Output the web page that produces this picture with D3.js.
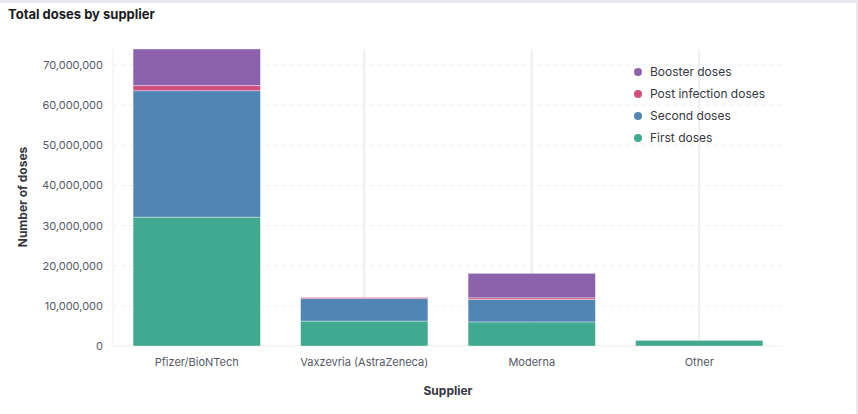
<!DOCTYPE html>
<html><head><meta charset="utf-8">
<script src="https://cdn.jsdelivr.net/npm/d3@7"></script>
<style>body{margin:0;background:#fff;font-family:Inter,"Open Sans",sans-serif;}</style>
</head><body><svg id="c" width="858" height="414"></svg>
<script>
const suppliers = ["Pfizer/BioNTech","Vaxzevria (AstraZeneca)","Moderna","Other"];
const seriesNames = ["First doses","Second doses","Post infection doses","Booster doses"];
const firstDoses = [32100000, 6200000, 6000000, 1400000];
const secondDoses = [31500000, 5600000, 5600000, 0];
const postInfection = [1300000, 300000, 400000, 0];
const boosterDoses = [9100000, 0, 6100000, 0];
const colors = ["#41a98f","#5186b4","#d04f7c","#8c62ad"];
const yTicks = [0,10000000,20000000,30000000,40000000,50000000,60000000,70000000];

const rows = suppliers.map((s,i)=>({supplier:s,"First doses":firstDoses[i],"Second doses":secondDoses[i],"Post infection doses":postInfection[i],"Booster doses":boosterDoses[i]}));
const stacked = d3.stack().keys(seriesNames)(rows);
const svg = d3.select("#c");
svg.append("rect").attr("width",858).attr("height",414).attr("fill","#fff");
svg.append("rect").attr("width",858).attr("height",3).attr("fill","#e6e8ee");
svg.append("rect").attr("x",856).attr("width",2).attr("height",414).attr("fill","#e6e8ee");
svg.append("text").attr("x",8).attr("y",19).attr("font-size",13).attr("font-weight",700).attr("fill","#1a1c21").text("Total doses by supplier");

const m={l:113,r:783,t:49,b:346};
const x=d3.scaleBand().domain(suppliers).range([m.l,m.r]).paddingInner(0.24).paddingOuter(0.12);
const y=d3.scaleLinear().domain([0,74000000]).range([m.b,m.t]);
const g=svg.append("g");
yTicks.forEach(t=>{
  g.append("line").attr("x1",m.l).attr("x2",m.r).attr("y1",y(t)).attr("y2",y(t)).attr("stroke","#eceef2").attr("stroke-dasharray",t===0?null:"4,4");
  g.append("text").attr("x",103).attr("y",y(t)+4).attr("text-anchor","end").attr("font-size",11).attr("fill","#535966").text(d3.format(",")(t));
});
suppliers.forEach(s=>{
  g.append("line").attr("x1",x(s)+x.bandwidth()/2).attr("x2",x(s)+x.bandwidth()/2).attr("y1",m.t).attr("y2",m.b).attr("stroke","#eceef2").attr("stroke-width",2);
  g.append("text").attr("x",x(s)+x.bandwidth()/2).attr("y",366).attr("text-anchor","middle").attr("font-size",11).attr("fill","#535966").text(s);
});
g.append("line").attr("x1",m.l).attr("x2",m.l).attr("y1",m.t).attr("y2",m.b).attr("stroke","#eceef2");
stacked.forEach((ser,k)=>{
  g.selectAll(null).data(ser.filter(d=>d[1]-d[0]>0)).enter().append("rect")
   .attr("x",d=>x(d.data.supplier)).attr("width",x.bandwidth())
   .attr("y",d=>y(d[1])).attr("height",d=>y(d[0])-y(d[1]))
   .attr("fill",colors[k]).attr("stroke","#fff").attr("stroke-opacity",0.5).attr("stroke-width",0.7);
});
svg.append("text").attr("x",448).attr("y",395).attr("text-anchor","middle").attr("font-size",12).attr("font-weight",700).attr("fill","#343741").text("Supplier");
svg.append("text").attr("transform","translate(27,197) rotate(-90)").attr("text-anchor","middle").attr("font-size",12).attr("font-weight",700).attr("fill","#343741").text("Number of doses");
const legend=["Booster doses","Post infection doses","Second doses","First doses"];
legend.forEach((n,i)=>{
  const ly=72+i*22;
  svg.append("circle").attr("cx",638).attr("cy",ly).attr("r",4).attr("fill",colors[seriesNames.indexOf(n)]);
  svg.append("text").attr("x",650).attr("y",ly+4).attr("font-size",12).attr("fill","#343741").text(n);
});
</script></body></html>
